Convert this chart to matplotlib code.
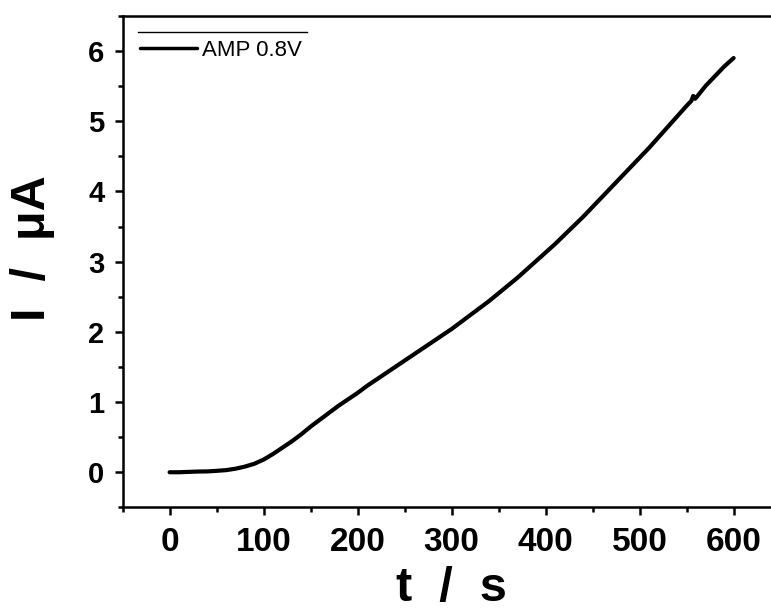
import matplotlib
matplotlib.use("Agg")
import matplotlib.pyplot as plt
from matplotlib.lines import Line2D
from matplotlib.ticker import MultipleLocator

plt.rcParams['font.family'] = ['Liberation Sans', 'DejaVu Sans']

# Amperometric response at 0.8 V
time_s = [0, 10, 20, 30, 40, 50, 60, 70, 80, 90, 100, 110, 120, 130, 140,
          150, 160, 170, 180, 190, 200, 210, 220, 230, 240, 250, 260, 270,
          280, 290, 300, 310, 320, 330, 340, 350, 360, 370, 380, 390, 400,
          410, 420, 430, 440, 450, 460, 470, 480, 490, 500, 510, 520, 530,
          540, 550, 555, 557, 559, 561, 570, 580, 590, 600]
current_uA = [0.0, 0.0, 0.005, 0.01, 0.012, 0.02, 0.03, 0.05, 0.08, 0.12,
              0.18, 0.26, 0.35, 0.44, 0.54, 0.65, 0.75, 0.85, 0.95, 1.04,
              1.13, 1.23, 1.32, 1.41, 1.50, 1.59, 1.68, 1.77, 1.86, 1.95,
              2.04, 2.14, 2.24, 2.34, 2.44, 2.55, 2.66, 2.77, 2.89, 3.01,
              3.13, 3.25, 3.38, 3.51, 3.64, 3.78, 3.92, 4.06, 4.20, 4.34,
              4.48, 4.62, 4.77, 4.92, 5.07, 5.22, 5.29, 5.36, 5.32, 5.35,
              5.50, 5.64, 5.78, 5.90]
series_label = "AMP 0.8V"

x_major = [0, 100, 200, 300, 400, 500, 600]
y_major = [0, 1, 2, 3, 4, 5, 6]

fig = plt.figure(figsize=(7.71, 6.12), dpi=100)
ax = fig.add_axes([0.159, 0.171, 0.8535, 0.803])

ax.plot(time_s, current_uA, color='black', lw=3.0, label=series_label,
        solid_capstyle='round', solid_joinstyle='round')

ax.set_xlim(-50, 650)
ax.set_ylim(-0.5, 6.5)
ax.set_xticks(x_major)
ax.set_yticks(y_major)
ax.xaxis.set_minor_locator(MultipleLocator(50))
ax.yaxis.set_minor_locator(MultipleLocator(0.5))

for s in ax.spines.values():
    s.set_linewidth(1.8)

ax.tick_params(which='major', direction='out', length=6, width=1.8,
               top=False, right=False)
ax.tick_params(which='minor', direction='out', length=3.5, width=1.8,
               top=False, right=False)
ax.tick_params(axis='x', which='major', labelsize=24, pad=8)
ax.tick_params(axis='y', which='major', labelsize=21, pad=7)
for lab in ax.get_xticklabels() + ax.get_yticklabels():
    lab.set_fontweight('bold')

ax.set_xlabel("t  /  s", fontsize=35, fontweight='bold', labelpad=6)
ax.set_ylabel("I  /  μA", fontsize=35, fontweight='bold')
ax.yaxis.set_label_coords(-0.103, 0.527)

leg = ax.legend(loc='upper left', bbox_to_anchor=(0.026, 0.952),
                frameon=False, fontsize=16, handlelength=2.6,
                handletextpad=0.2, borderpad=0, borderaxespad=0)
for h in leg.get_lines():
    h.set_linewidth(2.5)

# thin rule above the legend entry
ax.add_line(Line2D([0.023, 0.28], [0.967, 0.967], transform=ax.transAxes,
                   color='black', lw=1.0, clip_on=False))

fig.savefig("out.png", dpi=100)
